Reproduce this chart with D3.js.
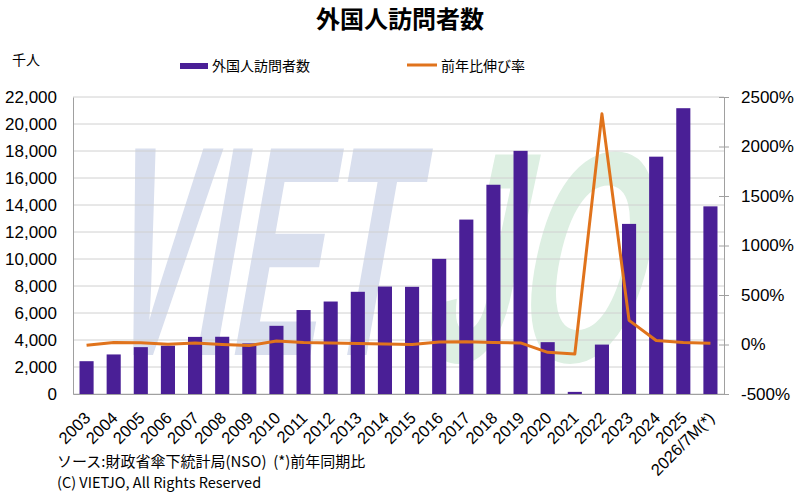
<!DOCTYPE html>
<html>
<head>
<meta charset="utf-8">
<script src="https://cdn.jsdelivr.net/npm/d3@7"></script>
<style>
  body { margin: 0; background: #fff; }
  text { font-family: "Liberation Sans", Arial, sans-serif; }
  .jp { font-family: "Noto Sans CJK JP", sans-serif; }
</style>
</head>
<body>
<div id="chart"></div>
<script>
// data
const years = ["2003", "2004", "2005", "2006", "2007", "2008", "2009", "2010",
    "2011", "2012", "2013", "2014", "2015", "2016", "2017", "2018", "2019",
    "2020", "2021", "2022", "2023", "2024", "2025", "2026/7M(*)"]
const visitors = [2430, 2930, 3470, 3580, 4230, 4240, 3750, 5050,
    6220, 6850, 7570, 7960, 7940, 10010, 12920, 15500, 18010,
    3840, 157, 3660, 12600, 17580, 21170, 13900]
const growth = [-8, 20, 18, 3, 16, 1, -11, 35,
    19, 14, 11, 5, -1, 26, 29, 20, 16,
    -79, -96, 2330, 244, 40, 20, 12]
const leftTicks = d3.range(0, 22001, 2000)
const rightTicks = d3.range(-500, 2501, 500)

const data = years.map((y, i) => ({ year: y, visitors: visitors[i], growth: growth[i] }))

const width = 800
const height = 496
const margin = { top: 97, right: 76, bottom: 102, left: 73 }
const boundedWidth = width - margin.left - margin.right
const boundedHeight = height - margin.top - margin.bottom

const svg = d3.select("#chart")
    .append("svg")
    .attr("width", width)
    .attr("height", height)

// title
svg.append("text")
    .attr("class", "jp")
    .attr("x", 400)
    .attr("y", 28)
    .attr("text-anchor", "middle")
    .style("font-size", "24px")
    .style("font-weight", "bold")
    .text("外国人訪問者数")

svg.append("text")
    .attr("class", "jp")
    .attr("x", 12)
    .attr("y", 65)
    .style("font-size", "14px")
    .text("千人")

const bounds = svg.append("g")
    .attr("transform", `translate(${margin.left},${margin.top})`)

const xScale = d3.scaleBand()
    .domain(years)
    .range([0, boundedWidth])
    .paddingInner(0.48)
    .paddingOuter(0.24)

const yScale = d3.scaleLinear()
    .domain([0, 22000])
    .range([boundedHeight, 0])

const y2Scale = d3.scaleLinear()
    .domain([-500, 2500])
    .range([boundedHeight, 0])

// watermark (logo behind the plot)
const mark = bounds.append("g").attr("pointer-events", "none")
mark.append("text")
    .attr("transform", "translate(25,258) skewX(-10) scale(0.45,1)")
    .style("font-size", "300px")
    .style("font-weight", "bold")
    .style("fill", "#d9dfee")
    .text("VIET")
mark.append("text")
    .attr("transform", "translate(345,264) skewX(-12) scale(0.54,1)")
    .style("font-size", "300px")
    .style("font-weight", "bold")
    .style("fill", "#ddefe2")
    .text("JO")

// gridlines
bounds.append("g")
    .selectAll("line")
    .data(leftTicks)
    .join("line")
    .attr("x1", 0)
    .attr("x2", boundedWidth)
    .attr("y1", d => yScale(d))
    .attr("y2", d => yScale(d))
    .attr("stroke", "#d0d0d0")
    .attr("stroke-width", 1)

// bars
bounds.append("g")
    .selectAll("rect")
    .data(data)
    .join("rect")
    .attr("x", d => xScale(d.year))
    .attr("y", d => yScale(d.visitors))
    .attr("width", xScale.bandwidth())
    .attr("height", d => boundedHeight - yScale(d.visitors))
    .attr("fill", "#4a1f96")

// left axis
const yAxisGenerator = d3.axisLeft(yScale)
    .tickValues(leftTicks)
    .tickFormat(d3.format(","))
    .tickSize(0)
    .tickPadding(16)
const yAxis = bounds.append("g").call(yAxisGenerator)
yAxis.select(".domain").attr("stroke", "#a0a0a0")
yAxis.selectAll("text")
    .style("font-size", "17px")
    .style("font-family", "'Liberation Sans', Arial, sans-serif")
    .attr("fill", "#000")

// right axis
const y2AxisGenerator = d3.axisRight(y2Scale)
    .tickValues(rightTicks)
    .tickFormat(d => d + "%")
    .tickSize(5)
    .tickPadding(12)
const y2Axis = bounds.append("g")
    .attr("transform", `translate(${boundedWidth},0)`)
    .call(y2AxisGenerator)
y2Axis.select(".domain").attr("stroke", "#a0a0a0")
y2Axis.selectAll(".tick line")
    .attr("x1", -5)
    .attr("stroke", "#a0a0a0")
y2Axis.selectAll("text")
    .style("font-size", "17px")
    .style("font-family", "'Liberation Sans', Arial, sans-serif")
    .attr("fill", "#000")

// bottom axis
const xAxisGenerator = d3.axisBottom(xScale).tickSize(0).tickFormat("")
const xAxis = bounds.append("g")
    .attr("transform", `translate(0,${boundedHeight})`)
    .call(xAxisGenerator)
xAxis.select(".domain").attr("stroke", "#a0a0a0")

bounds.append("g")
    .selectAll("text")
    .data(years)
    .join("text")
    .attr("transform", d => `translate(${xScale(d) + xScale.bandwidth() / 2 + 5},${boundedHeight + 25}) rotate(-45)`)
    .attr("text-anchor", "end")
    .style("font-size", "16.5px")
    .text(d => d)

// growth line
const line = d3.line()
    .x(d => xScale(d.year) + xScale.bandwidth() / 2)
    .y(d => y2Scale(d.growth))
bounds.append("path")
    .datum(data)
    .attr("d", line)
    .attr("fill", "none")
    .attr("stroke", "#e0731c")
    .attr("stroke-width", 3)
    .attr("stroke-linejoin", "round")

// legend
const legend = svg.append("g")
legend.append("rect")
    .attr("x", 180)
    .attr("y", 63)
    .attr("width", 28)
    .attr("height", 6)
    .attr("fill", "#4a1f96")
legend.append("text")
    .attr("class", "jp")
    .attr("x", 212)
    .attr("y", 71)
    .style("font-size", "14px")
    .text("外国人訪問者数")
legend.append("line")
    .attr("x1", 407)
    .attr("x2", 437)
    .attr("y1", 65)
    .attr("y2", 65)
    .attr("stroke", "#e0731c")
    .attr("stroke-width", 3)
legend.append("text")
    .attr("class", "jp")
    .attr("x", 441)
    .attr("y", 71)
    .style("font-size", "14px")
    .text("前年比伸び率")

// footer
svg.append("text")
    .attr("class", "jp")
    .attr("x", 57)
    .attr("y", 467)
    .style("font-size", "15px")
    .text("ソース:財政省傘下統計局(NSO)\u00a0\u00a0(*)前年同期比")
svg.append("text")
    .attr("class", "jp")
    .attr("x", 57)
    .attr("y", 488)
    .style("font-size", "14.5px")
    .text("(C) VIETJO, All Rights Reserved")
</script>
</body>
</html>
